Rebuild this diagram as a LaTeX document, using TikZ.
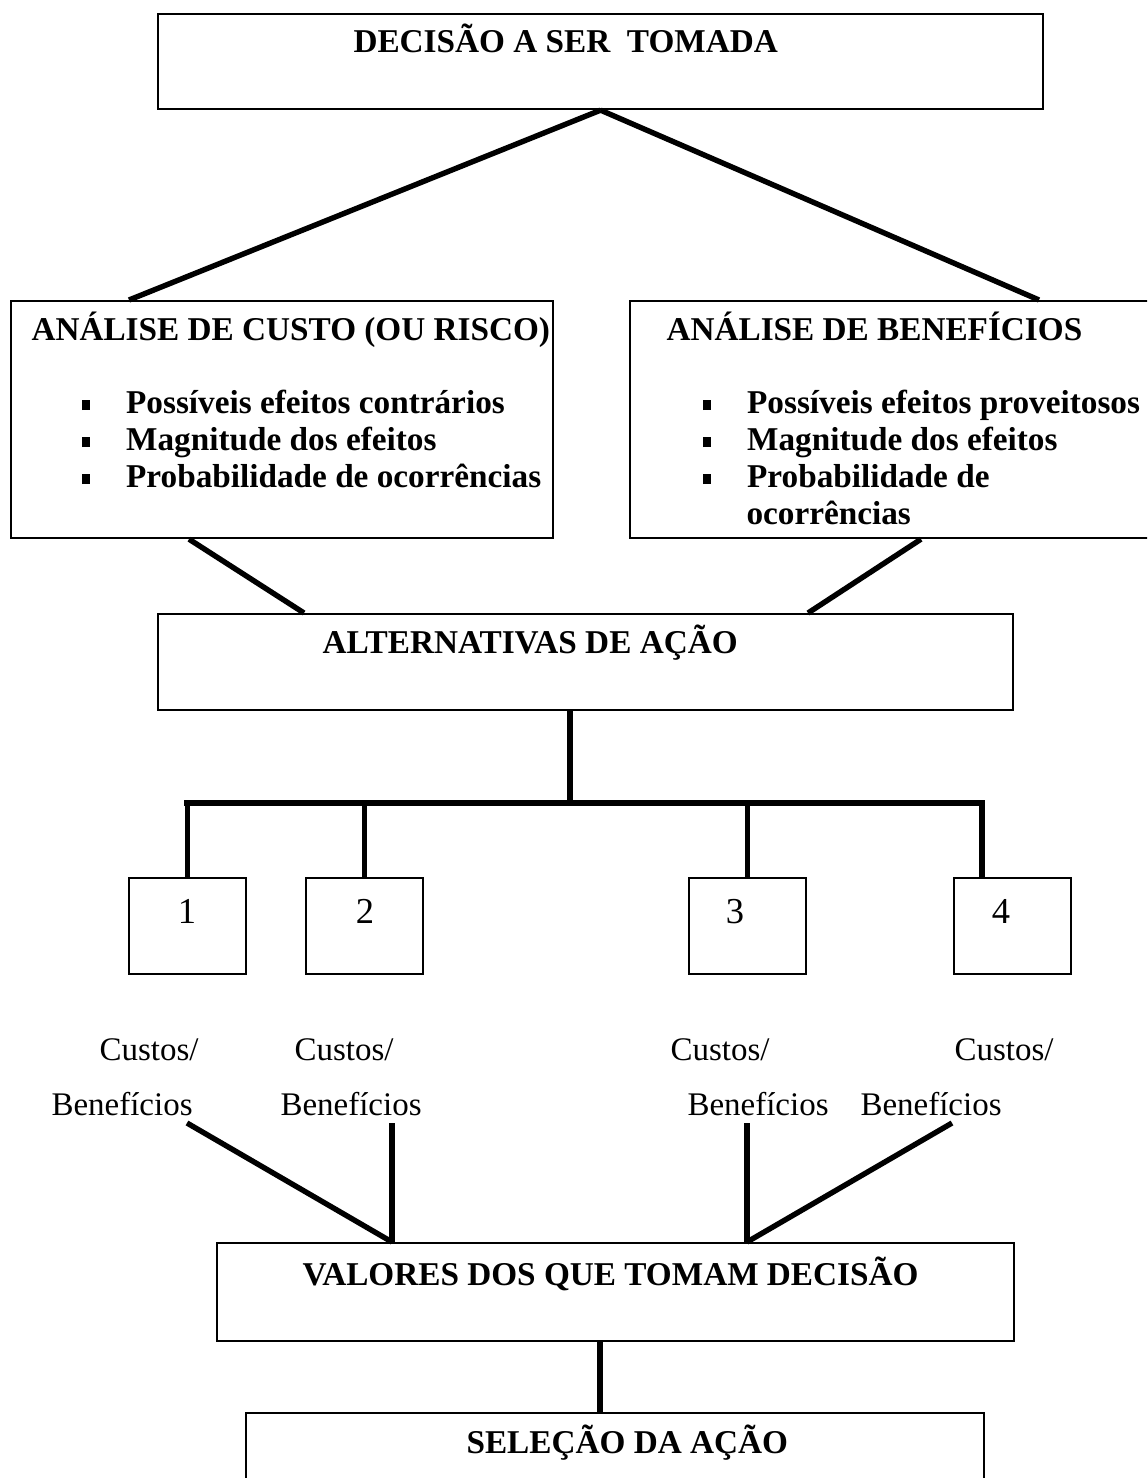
\documentclass[tikz,border=0pt]{standalone}
\usepackage{fontspec}
\setmainfont{Liberation Serif}
\usepackage{tikz}

\newcommand{\upx}{0.013cm}
\newcommand{\marca}{\makebox[0.58cm][l]{\rule[1.1pt]{3.1pt}{3.7pt}}}

\tikzset{
  caixa/.style={draw, line width=0.8pt, inner sep=0pt, anchor=north west},
  texto/.style={inner sep=0pt, anchor=base west, font=\fontsize{12.2}{14}\selectfont},
  negrito/.style={texto, font=\fontsize{12.3}{14}\selectfont\bfseries},
  numero/.style={texto, anchor=base, font=\fontsize{13.5}{15}\selectfont},
  ligacao/.style={line width=2pt},
}

\begin{document}
\begin{tikzpicture}[x=\upx, y=-\upx]
\useasboundingbox (0,0) rectangle (1147,1478);
\clip (0,0) rectangle (1147,1478);

% caixas
\node[caixa, minimum width=885*\upx, minimum height=95*\upx] (decisao) at (157,13) {};
\node[caixa, minimum width=542*\upx, minimum height=237*\upx] (custo) at (10,300) {};
\node[caixa, minimum width=540*\upx, minimum height=237*\upx] (beneficio) at (629,300) {};
\node[caixa, minimum width=855*\upx, minimum height=96*\upx] (alternativas) at (157,613) {};
\node[caixa, minimum width=117*\upx, minimum height=96*\upx] (opcao1) at (128,877) {};
\node[caixa, minimum width=117*\upx, minimum height=96*\upx] (opcao2) at (305,877) {};
\node[caixa, minimum width=117*\upx, minimum height=96*\upx] (opcao3) at (688,877) {};
\node[caixa, minimum width=117*\upx, minimum height=96*\upx] (opcao4) at (953,877) {};
\node[caixa, minimum width=797*\upx, minimum height=98*\upx] (valores) at (216,1242) {};
\node[caixa, minimum width=738*\upx, minimum height=120*\upx] (selecao) at (245,1412) {};

% textos
\node[negrito] (t-decisao) at (353,53) {DECISÃO A SER~ TOMADA};

\node[negrito] (t-custo) at (31,341) {ANÁLISE DE CUSTO (OU RISCO)};
\node[negrito] (c1) at (81,413) {\marca Possíveis efeitos contrários};
\node[negrito] (c2) at (81,450) {\marca Magnitude dos efeitos};
\node[negrito] (c3) at (81,487) {\marca Probabilidade de ocorrências};

\node[negrito] (t-beneficio) at (666,341) {ANÁLISE DE BENEFÍCIOS};
\node[negrito] (b1) at (702,413) {\marca Possíveis efeitos proveitosos};
\node[negrito] (b2) at (702,450) {\marca Magnitude dos efeitos};
\node[negrito] (b3) at (702,487) {\marca Probabilidade de};
\node[negrito] (b4) at (746,524) {ocorrências};

\node[negrito] (t-alternativas) at (322,653) {ALTERNATIVAS DE AÇÃO};

\node[numero] (n1) at (187,923) {1};
\node[numero] (n2) at (365,923) {2};
\node[numero] (n3) at (735,923) {3};
\node[numero] (n4) at (1001,923) {4};

\node[texto] (custos1) at (99,1060) {Custos/};
\node[texto] (custos2) at (294,1060) {Custos/};
\node[texto] (custos3) at (670,1060) {Custos/};
\node[texto] (custos4) at (954,1060) {Custos/};
\node[texto] (benef1) at (51,1115) {Benefícios};
\node[texto] (benef2) at (280,1115) {Benefícios};
\node[texto] (benef3) at (687,1115) {Benefícios};
\node[texto] (benef4) at (860,1115) {Benefícios};

\node[negrito] (t-valores) at (302,1285) {VALORES DOS QUE TOMAM DECISÃO};
\node[negrito] (t-selecao) at (466,1453) {SELEÇÃO DA AÇÃO};

% ligacoes
\draw[ligacao] (decisao.south) -- ([xshift=119*\upx]custo.north west);
\draw[ligacao] (decisao.south) -- ([xshift=410*\upx]beneficio.north west);
\draw[ligacao] ([xshift=179*\upx]custo.south west) -- ([xshift=147*\upx]alternativas.north west);
\draw[ligacao] ([xshift=292*\upx]beneficio.south west) -- ([xshift=651*\upx]alternativas.north west);

\coordinate (ramo) at (570,803);
\coordinate (topo4) at ([xshift=29*\upx]opcao4.north west);
\draw[ligacao] (alternativas.south -| ramo) -- (ramo);
\draw[ligacao, line width=2.3pt, line cap=rect] (opcao1.north |- ramo) -- (topo4 |- ramo);
\foreach \o in {opcao1.north, opcao2.north, opcao3.north, topo4}
  \draw[ligacao] (\o |- ramo) -- (\o);

\coordinate (f1) at (187,1123);
\coordinate (f4) at (952,1123);
\coordinate (v1) at ([xshift=176*\upx]valores.north west);
\coordinate (v2) at ([xshift=531*\upx]valores.north west);
\draw[ligacao] (f1) -- (v1);
\draw[ligacao] (v1 |- f1) -- (v1);
\draw[ligacao] (v2 |- f1) -- (v2);
\draw[ligacao] (f4) -- (v2);

\coordinate (v3) at ([xshift=355*\upx]selecao.north west);
\draw[ligacao] (v3 |- valores.south) -- (v3);

\end{tikzpicture}
\end{document}
